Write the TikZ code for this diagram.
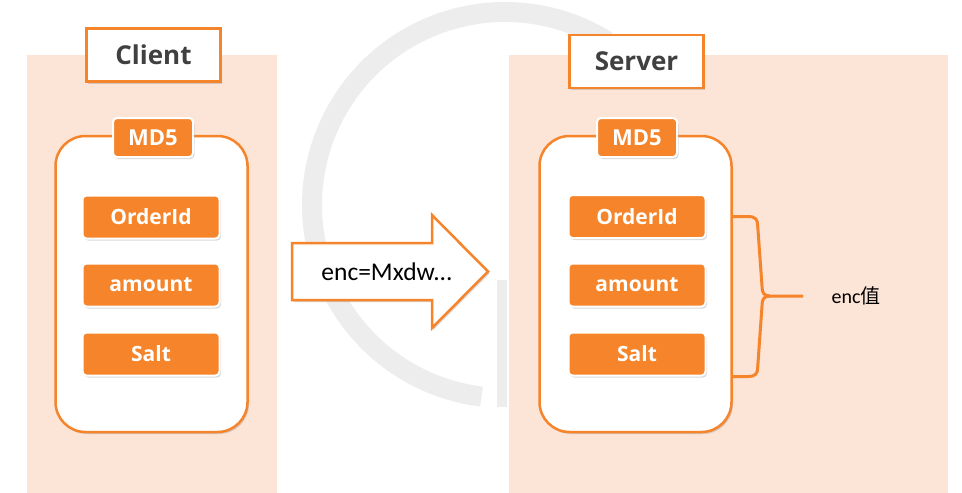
\documentclass[tikz,border=0pt]{standalone}
\usepackage{fontspec}
\setmainfont{Open Sans}
\newfontfamily\carl{Carlito}
\newfontfamily\cjk{Noto Sans CJK SC}
\usetikzlibrary{shadows}
\definecolor{orng}{HTML}{F5842A}
\definecolor{panel}{HTML}{FCE4D6}
\definecolor{dark}{HTML}{404040}
\definecolor{wm}{HTML}{EDEDED}
\begin{document}
\begin{tikzpicture}[x=1pt,y=-1pt,
  shd/.style={drop shadow={opacity=0.3, shadow xshift=1.5pt, shadow yshift=-2pt}},
  titlebox/.style={draw=orng, line width=2.5pt, fill=white, minimum width=134pt, minimum height=53pt, inner sep=0pt,
    font=\fontsize{26}{30}\selectfont\bfseries, text=dark, shd},
  md5box/.style={draw=orng, line width=2.5pt, fill=white, rounded corners=30pt, minimum width=192pt, minimum height=296pt, inner sep=0pt, shd},
  tagbox/.style={fill=orng, draw=white, line width=2pt, rounded corners=4pt, text=white, inner sep=0pt,
    font=\fontsize{22}{26}\selectfont\bfseries, minimum width=80pt, minimum height=39pt, shd},
  itembox/.style={fill=orng, draw=white, line width=2pt, rounded corners=4pt, text=white, inner sep=0pt,
    font=\fontsize{21}{25}\selectfont\bfseries, minimum width=137pt, minimum height=43pt, shd},
  arrowshape/.style={draw=orng, line width=2.5pt, fill=white, line join=miter, shd},
  bracestyle/.style={draw=orng, line width=3pt}]
\useasboundingbox (0,0) rectangle (962,493);
\fill[white] (0,0) rectangle (962,493);
% watermark
\draw[wm, line width=20pt] (505,205) ++(-58:193) arc[start angle=-58, end angle=-263, radius=193];
\fill[wm] (497,280) rectangle (507,407);
% panels
\fill[panel] (27,55) rectangle (277,493);
\fill[panel] (509,55) rectangle (948,493);
% client
\node[titlebox] (client) at (153.5,55) {Client};
\node[md5box] (cmd5) at (151.5,284) {};
\node[tagbox] (ctag) at (153,137.5) {MD5};
\node[itembox] (corder) at (151,217) {OrderId};
\node[itembox] (camount) at (151,285) {amount};
\node[itembox] (csalt) at (151,354) {Salt};
% arrow
\path[arrowshape] (292,243) -- (432,243) -- (432,215) -- (488,271.5) -- (432,328) -- (432,300) -- (292,300) -- cycle;
\node[font=\carl\fontsize{25.5}{30}\selectfont, text=black] (enc) at (387,271.5) {enc=Mxdw...};
% server
\node[titlebox] (server) at (636.5,61.5) {Server};
\node[md5box] (smd5) at (635.5,284) {};
\node[tagbox] (stag) at (637,137.5) {MD5};
\node[itembox] (sorder) at (637,216.5) {OrderId};
\node[itembox] (samount) at (637,285) {amount};
\node[itembox] (ssalt) at (637,354) {Salt};
% brace
\coordinate (bt) at (smd5.east |- sorder.east);
\coordinate (bb) at (smd5.east |- ssalt.south);
\coordinate (tip) at (770,296);
\coordinate (bend) at (803,296);
\draw[bracestyle] (bt) -- ++(15,0) .. controls ++(8,0) and ++(0,-7) .. ++(10,10) -- (762,286) .. controls (762,293) and (764,296) .. (tip) -- (bend);
\draw[bracestyle] (bb) -- ++(15,0) .. controls ++(8,0) and ++(0,7) .. ++(10,-10) -- (762,306) .. controls (762,299) and (764,296) .. (tip);
\node[font=\fontsize{20}{24}\selectfont, anchor=west] (encval) at (828,296) {\carl enc\cjk 值};
\end{tikzpicture}
\end{document}
